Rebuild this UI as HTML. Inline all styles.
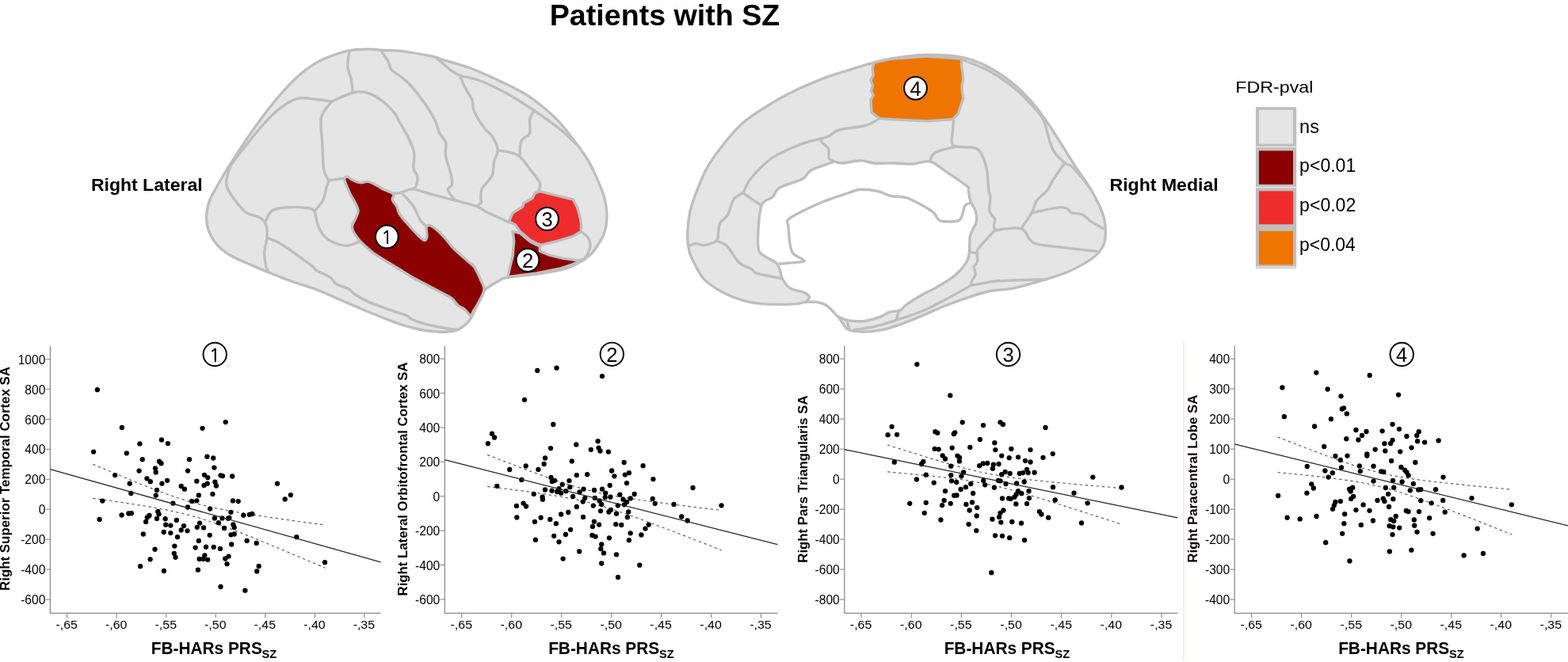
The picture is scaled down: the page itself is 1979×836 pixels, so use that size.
<!DOCTYPE html>
<html><head><meta charset="utf-8"><title>Patients with SZ</title>
<style>html,body{margin:0;padding:0;background:#fff;}body{width:1979px;height:836px;overflow:hidden;}svg{display:block;}text{font-family:"Liberation Sans",Arial,sans-serif;}</style>
</head><body>
<svg width="1979" height="836" viewBox="0 0 1979 836">
<rect width="1979" height="836" fill="#fff"/>
<text x="693.76" y="32.00" font-size="36.83" font-weight="bold" textLength="290.51" lengthAdjust="spacingAndGlyphs" fill="#000" >Patients with SZ</text>
<text x="114.90" y="240.80" font-size="22.48" font-weight="bold" textLength="140.75" lengthAdjust="spacingAndGlyphs" fill="#000" >Right Lateral</text>
<text x="1400.50" y="240.80" font-size="22.62" font-weight="bold" textLength="137.22" lengthAdjust="spacingAndGlyphs" fill="#000" >Right Medial</text>
<g stroke="#bebebe" stroke-width="3.4" stroke-linejoin="round" stroke-linecap="round">
<path d="M273.0,237.0 C277.4,229.1 282.3,220.3 290.4,207.7 C298.5,195.1 311.4,175.2 321.4,161.2 C331.4,147.2 340.6,134.8 350.2,123.6 C359.8,112.3 369.8,101.6 379.0,93.7 C388.2,85.8 395.6,80.9 405.5,76.0 C415.4,71.1 428.7,66.6 438.7,64.3 C448.7,62.0 457.9,62.2 465.3,62.1 C472.7,62.0 476.1,63.0 483.0,63.4 C489.9,63.8 496.7,63.2 507.0,64.5 C517.3,65.8 536.6,69.3 544.8,71.0 C552.9,72.7 547.8,72.0 555.9,74.5 C564.0,77.0 581.3,81.5 593.5,86.0 C605.7,90.5 617.9,96.3 629.0,101.5 C640.1,106.7 651.2,111.8 660.0,117.0 C668.8,122.2 674.6,126.6 682.0,132.5 C689.4,138.4 697.2,145.0 704.2,152.4 C711.2,159.8 717.4,167.8 724.0,176.7 C730.6,185.5 738.1,194.9 744.0,205.5 C749.9,216.1 756.2,231.8 759.5,240.0 C762.8,248.2 763.0,250.3 764.0,255.0 C765.0,259.7 765.6,263.0 765.8,268.0 C766.0,273.0 765.6,280.3 765.0,285.0 C764.4,289.7 763.2,292.8 762.0,296.0 C760.8,299.2 760.3,300.1 757.9,304.0 C755.5,307.9 750.5,315.8 747.4,319.5 C744.3,323.2 741.5,324.4 739.5,326.0 C737.5,327.6 739.1,326.8 735.1,329.0 C731.1,331.2 724.1,336.2 715.2,339.0 C706.4,341.8 694.5,343.7 682.0,345.6 C669.5,347.5 648.8,348.9 640.0,350.5 C631.2,352.1 633.3,352.8 629.0,355.0 C624.7,357.2 617.3,361.9 614.3,364.0 C611.3,366.1 612.7,364.4 611.0,367.5 C609.3,370.6 606.7,376.8 604.0,382.3 C601.3,387.8 597.5,396.1 595.0,400.5 C592.5,404.9 592.1,405.8 589.3,408.4 C586.5,411.0 582.7,414.6 578.0,416.4 C573.3,418.2 567.6,419.0 561.0,419.2 C554.4,419.4 545.0,418.4 538.2,417.5 C531.4,416.6 526.3,415.3 520.0,413.7 C513.7,412.1 510.9,411.7 500.5,407.9 C490.1,404.1 469.4,395.6 457.4,390.7 C445.4,385.8 438.3,382.4 428.7,378.3 C419.1,374.2 410.5,369.8 400.0,365.8 C389.5,361.8 375.1,357.9 365.7,354.5 C356.3,351.1 351.6,349.0 343.5,345.7 C335.4,342.4 325.5,338.3 317.0,334.6 C308.5,330.9 299.6,327.6 292.6,323.5 C285.6,319.4 279.8,315.5 275.0,310.3 C270.2,305.1 266.3,298.4 263.9,292.5 C261.5,286.6 260.5,281.1 260.5,274.8 C260.5,268.6 261.8,261.3 263.9,255.0 C266.0,248.7 268.6,244.9 273.0,237.0 Z" fill="#e5e5e5"/>
<path d="M291.0,209.0 C296.1,202.5 311.9,181.3 321.4,170.0 C330.9,158.7 339.1,148.9 348.0,141.3 C356.9,133.8 365.7,127.3 374.5,124.7 C383.3,122.1 393.6,125.2 401.0,125.8 C408.4,126.3 415.8,127.6 418.8,128.0" fill="none"/>
<path d="M291.0,209.0 C290.3,211.2 287.8,217.7 287.0,222.0 C286.2,226.3 284.7,230.2 286.0,235.0 C287.3,239.8 290.8,245.0 294.8,250.5 C298.9,256.0 304.8,264.1 310.3,268.2 C315.8,272.2 323.8,272.2 328.0,274.8 C332.2,277.4 334.3,279.4 335.8,283.7 C337.3,287.9 337.3,294.4 336.9,300.3 C336.5,306.2 333.8,312.9 333.6,319.0 C333.4,325.1 335.1,333.1 335.8,336.8 C336.5,340.5 337.6,340.3 338.0,341.0" fill="none"/>
<path d="M418.8,128.0 C423.2,126.2 437.9,118.8 445.3,117.0 C452.7,115.2 456.7,115.2 463.0,117.0 C469.3,118.8 477.1,123.6 483.0,128.0 C488.9,132.4 495.2,139.5 498.5,143.5 C501.8,147.5 500.5,147.5 503.0,152.0 C505.5,156.5 510.2,163.9 513.5,170.5 C516.8,177.1 521.1,184.5 522.5,191.5 C523.9,198.5 521.3,207.4 522.0,212.5 C522.7,217.6 525.9,218.3 526.5,222.0 C527.1,225.7 526.5,231.7 525.5,234.5 C524.5,237.3 521.3,238.2 520.5,239.0" fill="none"/>
<path d="M445.3,117.0 C444.9,114.0 444.1,104.8 443.0,99.3 C441.9,93.8 439.0,89.5 438.7,83.8 C438.4,78.1 440.6,68.1 441.0,65.0" fill="none"/>
<path d="M418.8,128.0 C416.6,131.3 407.5,139.5 405.5,148.0 C403.5,156.5 406.1,167.9 406.6,179.0 C407.2,190.1 407.5,206.3 408.8,214.4 C410.1,222.5 413.9,224.0 414.4,227.6 C414.9,231.2 413.1,231.8 412.0,236.0 C410.9,240.2 410.2,247.5 407.7,252.7 C405.1,257.9 398.5,264.6 396.7,267.0" fill="none"/>
<path d="M414.4,227.6 C416.2,227.4 421.8,226.9 425.4,226.5 C429.0,226.1 434.2,225.2 436.0,225.0" fill="none"/>
<path d="M335.5,279.0 C336.8,276.8 339.2,268.8 343.5,266.0 C347.8,263.2 353.8,262.6 361.2,262.0 C368.6,261.4 381.9,261.9 387.8,262.7 C393.7,263.5 394.5,263.5 396.7,267.0 C398.9,270.5 398.8,278.3 401.0,283.7 C403.2,289.1 406.3,295.3 410.0,299.2 C413.7,303.1 418.4,305.1 423.2,307.0 C428.0,308.9 433.5,310.7 438.7,310.3 C443.9,309.9 451.9,305.5 454.5,304.5" fill="none"/>
<path d="M336.9,300.3 C339.8,301.6 345.4,302.3 354.6,308.0 C363.8,313.7 384.6,329.0 392.2,334.6 C399.8,340.2 395.8,339.2 400.0,341.9 C404.2,344.5 413.2,347.8 417.2,350.5 C421.2,353.2 420.1,355.8 423.9,358.2 C427.7,360.6 436.2,362.7 440.2,364.9 C444.2,367.1 443.6,368.9 447.8,371.6 C452.0,374.3 457.1,377.6 465.1,381.1 C473.1,384.6 487.7,389.7 495.7,392.6 C503.7,395.5 508.7,396.5 512.9,398.4 C517.1,400.3 516.9,402.0 521.1,403.9 C525.3,405.8 530.6,407.6 538.2,409.5 C545.8,411.4 560.0,414.1 566.6,415.2 C573.2,416.3 576.1,416.2 578.0,416.4" fill="none"/>
<path d="M497.0,244.0 C498.5,243.9 502.3,244.2 506.2,243.3 C510.1,242.5 514.2,238.6 520.5,238.9 C526.8,239.2 534.9,242.7 543.9,245.1 C552.9,247.5 564.8,250.6 574.4,253.2 C584.0,255.8 594.4,257.8 601.3,260.4 C608.2,262.9 609.3,265.4 615.6,268.5 C621.9,271.6 634.4,277.1 639.0,279.2 C643.6,281.3 642.3,280.7 643.0,281.0" fill="none"/>
<path d="M506.2,243.3 C507.5,244.6 511.3,248.0 514.0,251.0 C516.7,254.0 520.1,258.0 522.3,261.3 C524.5,264.6 525.5,268.0 527.0,271.0 C528.5,274.0 529.7,276.9 531.3,279.2 C532.9,281.5 535.4,283.1 536.7,284.6 C538.0,286.1 538.6,287.4 539.0,288.0" fill="none"/>
<path d="M480.8,63.9 C482.3,66.1 487.4,73.0 489.6,77.0 C491.8,81.0 491.4,85.0 494.0,88.2 C496.6,91.4 500.9,92.7 505.0,96.0 C509.1,99.3 513.1,102.3 518.3,108.0 C523.5,113.7 530.8,122.8 536.0,130.2 C541.2,137.6 546.2,146.1 549.3,152.4 C552.4,158.7 552.4,163.4 554.6,168.0 C556.8,172.6 561.3,175.2 562.6,180.0 C563.9,184.8 561.5,190.0 562.6,196.7 C563.7,203.4 567.7,213.9 569.0,220.0 C570.3,226.1 571.1,229.7 570.5,233.0 C569.9,236.3 564.8,236.3 565.4,239.7 C566.0,243.1 572.9,250.9 574.4,253.2" fill="none"/>
<path d="M551.5,73.8 C554.8,76.6 566.2,86.7 571.4,90.4 C576.6,94.1 577.0,94.2 582.5,96.0 C588.0,97.8 595.4,98.0 604.6,101.5 C613.8,105.0 626.4,110.8 637.8,117.0 C649.2,123.2 662.1,131.6 673.2,139.0 C684.3,146.4 695.4,154.2 704.2,161.2 C713.1,168.2 722.6,177.7 726.3,181.0" fill="none"/>
<path d="M581.3,98.2 C582.4,100.6 585.6,107.9 588.0,112.5 C590.4,117.1 594.0,121.4 595.7,125.8 C597.4,130.2 596.6,134.8 598.0,139.0 C599.4,143.2 601.7,147.1 604.0,151.0 C606.3,154.9 609.0,158.9 612.0,162.6 C615.0,166.3 619.3,168.8 622.0,173.3 C624.7,177.8 627.9,184.4 628.2,189.5 C628.5,194.6 624.9,198.4 623.7,203.8 C622.5,209.2 623.5,216.1 621.0,221.8 C618.5,227.5 610.9,233.2 608.5,238.0 C606.1,242.8 606.9,247.5 606.7,250.5 C606.6,253.5 608.5,254.2 607.6,255.9 C606.7,257.6 602.3,259.6 601.3,260.4" fill="none"/>
<path d="M628.2,190.0 C630.6,190.4 638.0,190.9 642.6,192.2 C647.2,193.5 651.5,193.9 656.0,197.6 C660.5,201.3 665.3,209.1 669.5,214.6 C673.7,220.1 679.4,226.6 681.2,230.8 C683.0,235.0 681.0,237.7 680.3,239.7 C679.6,241.7 677.5,242.4 677.0,243.0" fill="none"/>
<path d="M656.0,197.6 C656.3,194.4 655.8,183.3 657.8,178.7 C659.8,174.0 665.8,172.2 667.7,169.7 C669.6,167.1 668.8,166.7 669.0,163.4 C669.2,160.2 668.0,154.1 668.8,150.2 C669.6,146.3 673.1,141.7 674.0,140.0" fill="none"/>
<path d="M733.4,292.2 C734.8,293.5 740.0,297.1 742.0,300.0 C744.0,302.9 745.1,305.9 745.1,309.3 C745.1,312.7 743.3,317.2 742.0,320.2 C740.7,323.2 738.1,326.0 737.3,327.2" fill="none"/>
<path d="M438.4,223.4 C440.0,223.4 441.8,225.8 444.4,227.0 C447.0,228.2 450.5,230.2 453.9,230.6 C457.3,231.0 461.1,228.8 464.7,229.4 C468.3,230.0 472.3,232.5 475.5,234.1 C478.7,235.7 480.3,237.1 483.8,238.9 C487.3,240.7 494.5,242.7 496.4,244.9 C498.3,247.1 494.5,249.5 495.2,252.1 C495.9,254.7 499.1,257.5 500.6,260.5 C502.1,263.5 502.0,266.4 504.2,270.0 C506.4,273.6 510.1,277.8 513.7,282.0 C517.3,286.2 522.1,291.5 525.7,295.1 C529.3,298.7 533.1,302.9 535.3,303.5 C537.5,304.1 538.4,301.5 538.9,298.7 C539.4,295.9 537.3,289.0 538.3,286.8 C539.3,284.6 541.2,283.6 544.8,285.6 C548.4,287.6 555.6,294.2 560.0,298.7 C564.4,303.2 566.3,307.3 571.4,312.5 C576.5,317.7 586.0,325.9 590.5,330.0 C595.0,334.1 595.8,333.0 598.4,336.8 C601.0,340.6 604.3,347.8 606.4,352.7 C608.5,357.6 611.4,361.1 611.0,366.0 C610.6,370.9 606.2,377.7 604.0,382.0 C601.8,386.3 599.7,389.3 598.0,392.0 C596.3,394.7 595.9,398.5 593.9,398.2 C591.9,397.9 588.6,392.3 586.0,390.2 C583.4,388.1 580.7,388.0 578.0,385.7 C575.3,383.4 573.8,379.5 570.0,376.6 C566.2,373.8 560.5,371.5 555.2,368.6 C549.9,365.8 543.9,362.5 538.2,359.5 C532.5,356.5 526.8,353.8 521.1,350.5 C515.4,347.2 509.2,343.2 504.0,340.0 C498.8,336.8 495.4,334.8 490.0,331.5 C484.6,328.2 475.9,322.9 471.9,320.2 C467.9,317.4 469.1,318.0 465.9,315.0 C462.7,312.0 456.3,307.0 452.7,302.3 C449.1,297.6 444.5,292.9 444.4,286.8 C444.3,280.8 452.4,273.0 452.0,266.0 C451.6,259.0 444.9,251.4 442.0,244.9 C439.1,238.4 435.4,230.6 434.8,227.0 C434.2,223.4 436.8,223.4 438.4,223.4 Z" fill="#8b0000"/>
<polygon points="647.1,292.2 656.4,294.5 668.9,305.0 676.7,309.0 681.3,311.0 681.3,317.1 692.2,321.8 710.9,326.4 729.5,328.8 738.0,327.0 722.0,334.0 707.8,338.9 676.7,345.1 640.9,349.8 644.0,336.0 647.1,323.3 648.7,304.7" fill="#8b0000"/>
<polygon points="642.4,279.8 647.1,268.9 651.0,266.5 659.5,261.1 661.1,256.4 672.0,250.2 675.1,244.0 681.3,241.7 723.3,251.8 728.5,261.6 731.1,270.4 733.4,281.3 733.4,292.2 723.3,298.4 707.8,303.1 682.9,309.3 676.7,307.0 668.9,303.1 656.4,292.2 650.4,284.0" fill="#ee2c2c"/>
</g>
<g stroke="#bebebe" stroke-width="3.4" stroke-linejoin="round" stroke-linecap="round">
<path d="M880.0,240.0 C883.7,230.7 887.3,220.6 893.2,210.5 C899.1,200.4 907.9,188.7 915.3,179.5 C922.7,170.3 929.0,162.6 937.5,155.2 C946.0,147.8 956.2,141.5 966.2,135.2 C976.2,128.9 985.4,123.4 997.2,117.5 C1009.0,111.6 1024.8,104.6 1037.0,99.8 C1049.2,95.0 1059.1,92.3 1070.2,88.8 C1081.3,85.3 1093.4,81.4 1103.4,78.8 C1113.4,76.2 1119.0,74.9 1130.0,73.3 C1141.0,71.7 1155.3,69.5 1169.2,69.3 C1183.1,69.1 1200.6,69.7 1213.5,72.2 C1226.4,74.7 1235.6,78.6 1246.7,84.3 C1257.8,90.0 1270.7,99.1 1279.9,106.5 C1289.1,113.9 1295.7,121.6 1302.0,128.6 C1308.3,135.6 1312.0,140.8 1317.5,148.5 C1323.0,156.2 1328.6,164.7 1335.2,175.0 C1341.8,185.3 1350.3,199.6 1357.3,210.4 C1364.3,221.2 1371.7,230.7 1377.2,240.0 C1382.7,249.3 1387.5,259.1 1390.5,266.5 C1393.5,273.9 1394.4,277.6 1394.9,284.2 C1395.5,290.8 1395.7,300.1 1393.8,306.4 C1391.9,312.7 1388.0,317.5 1383.8,321.9 C1379.6,326.3 1374.7,329.2 1368.4,332.9 C1362.1,336.6 1354.3,340.7 1346.2,344.0 C1338.1,347.3 1330.8,349.5 1319.7,352.8 C1308.7,356.1 1291.5,361.4 1279.9,363.9 C1268.3,366.3 1259.3,365.7 1250.0,367.5 C1240.7,369.3 1233.6,371.8 1224.3,374.8 C1215.0,377.8 1206.9,380.5 1194.4,385.5 C1181.9,390.5 1162.0,399.8 1149.5,404.7 C1137.0,409.6 1128.8,412.7 1119.6,415.1 C1110.4,417.5 1101.2,418.4 1094.2,418.9 C1087.2,419.4 1081.9,418.7 1077.7,418.1 C1073.5,417.5 1072.3,418.3 1068.8,415.1 C1065.3,411.9 1061.0,403.6 1056.8,398.7 C1052.6,393.8 1047.7,388.9 1043.7,386.0 C1039.7,383.1 1037.4,382.3 1032.6,381.6 C1027.8,380.9 1019.8,381.2 1015.0,381.6 C1010.2,382.0 1012.4,383.5 1003.9,383.9 C995.4,384.3 975.1,384.6 964.0,383.9 C952.9,383.1 946.4,382.0 937.5,379.4 C928.6,376.8 919.0,372.8 910.9,368.4 C902.8,364.0 894.3,358.4 888.8,352.9 C883.3,347.4 880.8,341.1 877.7,335.2 C874.6,329.3 871.7,324.1 870.0,317.5 C868.3,310.9 867.5,303.8 867.7,295.3 C867.9,286.8 869.0,275.8 871.0,266.6 C873.0,257.4 876.3,249.3 880.0,240.0 Z" fill="#e5e5e5"/>
<path d="M1050.3,205.0 C1045.5,206.8 1030.1,211.4 1023.8,214.9 C1017.5,218.4 1019.4,222.3 1012.7,226.0 C1006.1,229.7 990.2,233.2 983.9,237.0 C977.6,240.8 978.7,245.5 975.0,248.9 C971.3,252.3 964.7,251.8 961.8,257.7 C958.9,263.6 958.1,274.7 957.4,284.3 C956.7,293.9 955.9,308.6 957.4,315.2 C958.9,321.8 962.5,321.3 966.2,324.1 C969.9,326.9 976.5,329.2 979.5,331.8 C982.5,334.4 982.7,336.3 984.0,339.6 C985.3,342.9 985.1,347.8 987.3,351.8 C989.5,355.9 992.6,360.9 997.2,363.9 C1001.8,366.8 1010.9,367.6 1015.0,369.5 C1019.1,371.4 1020.9,373.2 1021.6,375.0 C1022.3,376.8 1017.2,379.4 1019.0,380.5 C1020.8,381.6 1028.5,380.7 1032.6,381.6 C1036.7,382.5 1040.0,383.4 1043.7,386.0 C1047.4,388.6 1052.6,394.9 1054.8,397.1 C1057.0,399.3 1054.4,398.0 1057.0,399.3 C1059.6,400.6 1064.6,403.7 1070.3,404.7 C1076.0,405.7 1084.5,406.1 1091.2,405.4 C1097.9,404.6 1105.4,402.1 1110.6,400.2 C1115.8,398.3 1118.3,395.6 1122.6,394.2 C1126.8,392.8 1132.6,393.5 1136.1,392.0 C1139.6,390.5 1138.8,388.6 1143.5,385.2 C1148.2,381.8 1158.4,375.4 1164.5,371.8 C1170.6,368.2 1173.6,367.8 1180.3,363.9 C1187.0,360.0 1198.0,353.9 1204.6,348.4 C1211.2,342.9 1216.9,335.9 1220.1,330.7 C1223.2,325.5 1222.8,322.9 1223.5,317.4 C1224.2,311.9 1223.1,303.8 1224.6,297.5 C1226.1,291.2 1231.2,285.0 1232.3,279.8 C1233.4,274.6 1232.5,270.9 1231.2,266.5 C1229.9,262.1 1226.1,257.7 1224.6,253.3 C1223.1,248.9 1223.0,243.1 1222.3,240.0 C1221.5,236.9 1225.2,239.0 1220.1,234.8 C1214.9,230.6 1199.1,220.1 1191.4,214.9 C1183.7,209.7 1180.4,205.1 1173.7,203.8 C1167.0,202.5 1158.8,206.7 1151.5,207.1 C1144.2,207.5 1138.0,206.2 1130.0,206.0 C1122.0,205.8 1110.8,206.6 1103.4,206.0 C1096.0,205.4 1092.3,202.7 1085.7,202.7 C1079.1,202.7 1069.1,205.8 1063.6,206.0 C1058.1,206.2 1054.7,204.1 1052.5,203.9 C1050.3,203.7 1055.1,203.2 1050.3,205.0 Z" fill="#fff"/>
<path d="M984.0,333.0 C988.8,332.6 1007.9,331.6 1012.7,330.7 C1017.5,329.8 1014.9,329.6 1012.7,327.4 C1010.5,325.2 1002.4,324.3 999.4,317.5 C996.4,310.7 995.4,293.5 995.0,286.5 C994.6,279.5 990.2,280.6 997.2,275.4 C1004.2,270.2 1024.9,260.7 1037.0,255.5 C1049.1,250.3 1061.9,246.7 1070.0,244.0 C1078.1,241.3 1079.4,239.7 1085.7,239.3 C1092.0,238.9 1101.4,240.1 1107.9,241.5 C1114.5,242.9 1118.8,246.3 1125.0,247.7 C1131.2,249.1 1136.4,246.9 1144.9,250.0 C1153.4,253.1 1169.3,261.9 1175.9,266.5 C1182.5,271.1 1181.8,275.4 1184.7,277.6 C1187.7,279.8 1189.2,279.8 1193.6,279.8 C1198.0,279.8 1207.2,280.9 1211.3,277.6 C1215.3,274.3 1215.7,263.4 1217.9,259.9 C1220.1,256.4 1223.5,257.2 1224.6,256.6" fill="none"/>
<path d="M1110.0,149.6 C1107.1,151.1 1100.9,156.1 1092.4,158.5 C1083.9,160.9 1067.3,161.6 1059.2,164.0 C1051.1,166.4 1051.1,170.1 1043.7,172.9 C1036.3,175.7 1025.3,176.9 1015.0,180.6 C1004.7,184.3 989.8,190.8 981.7,195.0 C973.6,199.2 971.0,201.9 966.2,206.0 C961.4,210.1 956.7,215.2 953.0,219.3 C949.3,223.4 946.7,226.4 944.1,230.4 C941.5,234.4 940.5,239.9 937.5,243.3 C934.5,246.7 929.5,246.4 926.4,251.0 C923.2,255.6 921.5,265.8 918.6,271.0 C915.7,276.2 910.7,277.9 908.7,282.0 C906.7,286.1 907.2,291.6 906.5,295.3 C905.8,299.0 907.2,301.8 904.3,304.2 C901.3,306.6 893.2,309.1 888.8,309.7 C884.4,310.2 881.0,307.3 877.7,307.5 C874.4,307.7 870.5,310.2 869.0,310.8" fill="none"/>
<path d="M1037.0,177.0 C1037.0,177.4 1035.5,177.6 1037.0,179.5 C1038.5,181.4 1044.4,185.1 1045.9,188.4 C1047.4,191.7 1044.8,196.8 1045.9,199.4 C1047.0,202.0 1051.4,203.2 1052.5,203.9" fill="none"/>
<path d="M937.5,243.3 L959.6,258.8" fill="none"/>
<path d="M904.3,304.2 C906.5,305.3 912.7,306.2 917.5,310.8 C922.3,315.4 927.8,327.0 933.0,331.8 C938.2,336.6 944.8,337.4 948.5,339.6 C952.2,341.8 948.7,343.1 955.2,345.1 C961.7,347.1 981.9,350.7 987.3,351.8" fill="none"/>
<path d="M1203.5,152.9 C1203.3,155.1 1202.8,161.8 1202.4,166.2 C1202.0,170.6 1200.5,176.4 1201.3,179.5 C1202.0,182.6 1201.9,183.7 1206.9,185.0 C1211.9,186.3 1225.7,185.2 1231.2,187.2 C1236.7,189.2 1237.6,192.6 1240.0,197.2 C1242.4,201.8 1244.3,207.8 1245.6,214.9 C1246.9,222.0 1247.1,234.3 1247.8,240.0 C1248.5,245.7 1249.8,244.5 1250.0,248.9 C1250.2,253.3 1248.0,261.9 1248.9,266.5 C1249.8,271.1 1254.6,273.6 1255.5,276.5 C1256.4,279.4 1254.4,281.8 1254.4,284.2 C1254.4,286.6 1255.3,289.8 1255.5,290.9" fill="none"/>
<path d="M1206.9,185.0 C1202.5,186.3 1185.8,189.6 1180.3,192.7 C1174.8,195.8 1174.8,202.0 1173.7,203.8" fill="none"/>
<path d="M1255.5,290.9 C1261.0,290.5 1280.6,286.1 1288.7,288.7 C1296.8,291.3 1296.5,302.5 1304.2,306.4 C1312.0,310.3 1321.9,310.1 1335.2,311.9 C1348.5,313.7 1375.7,316.5 1383.8,317.4" fill="none"/>
<path d="M1255.5,290.9 C1252.2,294.6 1239.3,308.2 1235.6,313.0 C1231.9,317.8 1233.8,316.7 1233.4,319.6 C1233.0,322.6 1234.1,327.8 1233.4,330.7 C1232.7,333.6 1229.4,334.7 1229.0,337.3 C1228.6,339.9 1231.6,342.5 1231.2,346.2 C1230.8,349.9 1222.4,358.0 1226.8,359.5 C1231.2,361.0 1242.2,356.1 1257.7,355.0 C1273.2,353.9 1309.4,353.2 1319.7,352.8" fill="none"/>
<path d="M1226.8,359.5 C1221.4,362.6 1204.8,372.3 1194.4,377.8 C1184.0,383.3 1174.5,388.5 1164.5,392.7 C1154.5,396.9 1144.6,400.0 1134.6,403.2 C1124.6,406.4 1114.2,409.9 1104.7,412.1 C1095.2,414.3 1082.2,415.9 1077.7,416.6" fill="none"/>
<path d="M1134.6,392.0 L1131.6,403.2" fill="none"/>
<path d="M1068.8,404.7 L1071.8,415.1" fill="none"/>
<path d="M1223.5,318.5 L1233.4,319.6" fill="none"/>
<path d="M1288.7,288.7 C1290.9,285.4 1298.7,274.7 1302.0,268.8 C1305.3,262.9 1305.3,258.1 1308.6,253.3 C1311.9,248.5 1318.6,244.2 1321.9,240.0 C1325.2,235.8 1325.9,232.3 1328.5,228.1 C1331.1,223.9 1334.8,218.6 1337.4,214.9 C1340.0,211.2 1342.9,207.5 1344.0,206.0" fill="none"/>
<path d="M1302.0,268.8 C1307.5,267.7 1327.8,263.0 1335.2,262.1 C1342.6,261.2 1343.2,262.1 1346.2,263.2 C1349.2,264.3 1349.6,267.5 1352.9,268.8 C1356.2,270.1 1362.2,269.2 1366.2,271.0 C1370.2,272.8 1372.8,276.9 1377.2,279.8 C1381.6,282.8 1390.1,287.2 1392.7,288.7" fill="none"/>
<path d="M1213.5,75.0 C1219.0,77.3 1235.6,82.8 1246.7,88.8 C1257.8,94.8 1270.0,102.8 1279.9,110.9 C1289.9,119.0 1300.1,130.4 1306.4,137.4 C1312.7,144.4 1313.8,144.4 1317.5,152.9 C1321.2,161.4 1324.1,179.5 1328.5,188.3 C1332.9,197.2 1339.9,202.3 1344.0,206.0 C1348.1,209.7 1348.8,206.7 1352.9,210.4 C1357.0,214.1 1364.4,223.2 1368.4,228.1 C1372.5,233.0 1375.7,238.0 1377.2,240.0" fill="none"/>
<polygon points="1103.4,78.8 1125.0,74.4 1169.2,71.0 1213.5,74.0 1213.5,82.1 1215.7,99.8 1214.0,108.0 1214.6,117.5 1215.7,124.2 1209.0,144.0 1202.4,150.7 1169.2,152.9 1125.0,150.7 1110.0,149.6 1100.0,141.9 1099.0,126.4 1102.3,120.0 1099.5,115.0 1101.5,108.0 1099.0,101.0 1102.3,95.0 1101.0,86.0" fill="#ee7600"/>
</g>
<circle cx="488.3" cy="298.9" r="14.4" fill="#fff" stroke="#000" stroke-width="2.0"/><text x="488.20" y="308.35" font-size="24" text-anchor="middle" stroke="#000" stroke-width="0.35" style="font-family:NanumGothic,'Liberation Sans',sans-serif" fill="#000">1</text>
<circle cx="666.0" cy="328.5" r="14.4" fill="#fff" stroke="#000" stroke-width="2.0"/><text x="666.0" y="338.35" font-size="25.5" text-anchor="middle" fill="#000">2</text>
<circle cx="690.5" cy="276.4" r="14.4" fill="#fff" stroke="#000" stroke-width="2.0"/><text x="690.5" y="286.25" font-size="25.5" text-anchor="middle" fill="#000">3</text>
<circle cx="1155.5" cy="111.3" r="14.4" fill="#fff" stroke="#000" stroke-width="2.0"/><text x="1155.5" y="121.15" font-size="25.5" text-anchor="middle" fill="#000">4</text>
<text x="1559.24" y="116.90" font-size="20.97" font-weight="normal" textLength="98.24" lengthAdjust="spacingAndGlyphs" fill="#000" >FDR-pval</text>
<rect x="1584.9" y="135.2" width="51.3" height="201.5" fill="#bebebe"/>
<rect x="1584.9" y="184.7" width="51.3" height="1.5" fill="#e6e6e6"/>
<rect x="1584.9" y="235.7" width="51.3" height="1.7" fill="#e6e6e6"/>
<rect x="1584.9" y="336.7" width="51.3" height="2.9" fill="#d9d9d9"/>
<rect x="1588.9" y="138.8" width="43.1" height="42.9" fill="#e5e5e5"/>
<text x="1640.07" y="168.40" font-size="23.50" font-weight="normal" textLength="24.82" lengthAdjust="spacingAndGlyphs" fill="#000" >ns</text>
<rect x="1588.9" y="190.4" width="43.1" height="42.5" fill="#8b0000"/>
<text x="1640.10" y="216.50" font-size="23.00" font-weight="normal" textLength="71.19" lengthAdjust="spacingAndGlyphs" fill="#000" >p&lt;0.01</text>
<rect x="1588.9" y="241.3" width="43.1" height="42.0" fill="#ee2c2c"/>
<text x="1640.10" y="266.80" font-size="23.00" font-weight="normal" textLength="71.19" lengthAdjust="spacingAndGlyphs" fill="#000" >p&lt;0.02</text>
<rect x="1588.9" y="291.8" width="43.1" height="42.6" fill="#ee7600"/>
<text x="1640.11" y="317.20" font-size="23.00" font-weight="normal" textLength="70.71" lengthAdjust="spacingAndGlyphs" fill="#000" >p&lt;0.04</text>
<g><path d="M63.4,436.7 L63.4,774.3 L480.5,774.3" fill="none" stroke="#8a8a8a" stroke-width="1.25"/><line x1="57.6" y1="453.5" x2="63.4" y2="453.5" stroke="#8a8a8a" stroke-width="1.1"/><text x="57.4" y="459.6" font-size="15.6" text-anchor="end" fill="#000">1000</text><line x1="57.6" y1="491.4" x2="63.4" y2="491.4" stroke="#8a8a8a" stroke-width="1.1"/><text x="57.4" y="497.5" font-size="15.6" text-anchor="end" fill="#000">800</text><line x1="57.6" y1="529.4" x2="63.4" y2="529.4" stroke="#8a8a8a" stroke-width="1.1"/><text x="57.4" y="535.5" font-size="15.6" text-anchor="end" fill="#000">600</text><line x1="57.6" y1="567.3" x2="63.4" y2="567.3" stroke="#8a8a8a" stroke-width="1.1"/><text x="57.4" y="573.4" font-size="15.6" text-anchor="end" fill="#000">400</text><line x1="57.6" y1="605.2" x2="63.4" y2="605.2" stroke="#8a8a8a" stroke-width="1.1"/><text x="57.4" y="611.4" font-size="15.6" text-anchor="end" fill="#000">200</text><line x1="57.6" y1="643.2" x2="63.4" y2="643.2" stroke="#8a8a8a" stroke-width="1.1"/><text x="57.4" y="649.3" font-size="15.6" text-anchor="end" fill="#000">0</text><line x1="57.6" y1="681.2" x2="63.4" y2="681.2" stroke="#8a8a8a" stroke-width="1.1"/><text x="57.4" y="687.3" font-size="15.6" text-anchor="end" fill="#000">-200</text><line x1="57.6" y1="719.1" x2="63.4" y2="719.1" stroke="#8a8a8a" stroke-width="1.1"/><text x="57.4" y="725.2" font-size="15.6" text-anchor="end" fill="#000">-400</text><line x1="57.6" y1="757.1" x2="63.4" y2="757.1" stroke="#8a8a8a" stroke-width="1.1"/><text x="57.4" y="763.2" font-size="15.6" text-anchor="end" fill="#000">-600</text><line x1="84.6" y1="774.3" x2="84.6" y2="780.1999999999999" stroke="#8a8a8a" stroke-width="1.1"/><text x="84.2" y="793.8" font-size="15.2" text-anchor="middle" fill="#000" transform="translate(84.6,0) scale(1.05,1) translate(-84.6,0)">-,65</text><line x1="147.1" y1="774.3" x2="147.1" y2="780.1999999999999" stroke="#8a8a8a" stroke-width="1.1"/><text x="146.7" y="793.8" font-size="15.2" text-anchor="middle" fill="#000" transform="translate(147.1,0) scale(1.05,1) translate(-147.1,0)">-,60</text><line x1="209.7" y1="774.3" x2="209.7" y2="780.1999999999999" stroke="#8a8a8a" stroke-width="1.1"/><text x="209.3" y="793.8" font-size="15.2" text-anchor="middle" fill="#000" transform="translate(209.7,0) scale(1.05,1) translate(-209.7,0)">-,55</text><line x1="272.2" y1="774.3" x2="272.2" y2="780.1999999999999" stroke="#8a8a8a" stroke-width="1.1"/><text x="271.8" y="793.8" font-size="15.2" text-anchor="middle" fill="#000" transform="translate(272.2,0) scale(1.05,1) translate(-272.2,0)">-,50</text><line x1="334.7" y1="774.3" x2="334.7" y2="780.1999999999999" stroke="#8a8a8a" stroke-width="1.1"/><text x="334.3" y="793.8" font-size="15.2" text-anchor="middle" fill="#000" transform="translate(334.7,0) scale(1.05,1) translate(-334.7,0)">-,45</text><line x1="397.2" y1="774.3" x2="397.2" y2="780.1999999999999" stroke="#8a8a8a" stroke-width="1.1"/><text x="396.9" y="793.8" font-size="15.2" text-anchor="middle" fill="#000" transform="translate(397.2,0) scale(1.05,1) translate(-397.2,0)">-,40</text><line x1="459.8" y1="774.3" x2="459.8" y2="780.1999999999999" stroke="#8a8a8a" stroke-width="1.1"/><text x="459.4" y="793.8" font-size="15.2" text-anchor="middle" fill="#000" transform="translate(459.8,0) scale(1.05,1) translate(-459.8,0)">-,35</text><path d="M117.2,586.3 L124.7,589.5 L132.2,592.6 L139.8,595.8 L147.3,598.9 L154.8,602.0 L162.3,605.1 L169.8,608.2 L177.4,611.2 L184.9,614.2 L192.4,617.1 L199.9,620.0 L207.4,622.8 L215.0,625.5 L222.5,628.1 L230.0,630.6 L237.5,632.9 L245.0,635.1 L252.6,637.1 L260.1,638.9 L267.6,640.7 L275.1,642.3 L282.7,643.8 L290.2,645.2 L297.7,646.5 L305.2,647.8 L312.7,649.0 L320.3,650.2 L327.8,651.4 L335.3,652.5 L342.8,653.6 L350.3,654.7 L357.9,655.8 L365.4,656.8 L372.9,657.9 L380.4,658.9 L387.9,659.9 L395.5,661.0 L403.0,662.0 L410.5,663.0" fill="none" stroke="#5e5e5e" stroke-width="1.2" stroke-dasharray="3.4 3.7"/><path d="M117.2,629.3 L124.7,630.4 L132.2,631.4 L139.8,632.5 L147.3,633.6 L154.8,634.7 L162.3,635.8 L169.8,637.0 L177.4,638.2 L184.9,639.4 L192.4,640.7 L199.9,642.1 L207.4,643.5 L215.0,645.0 L222.5,646.6 L230.0,648.4 L237.5,650.3 L245.0,652.3 L252.6,654.5 L260.1,656.9 L267.6,659.4 L275.1,662.0 L282.7,664.7 L290.2,667.6 L297.7,670.4 L305.2,673.4 L312.7,676.4 L320.3,679.4 L327.8,682.5 L335.3,685.6 L342.8,688.7 L350.3,691.8 L357.9,695.0 L365.4,698.1 L372.9,701.3 L380.4,704.5 L387.9,707.7 L395.5,710.9 L403.0,714.1 L410.5,717.3" fill="none" stroke="#5e5e5e" stroke-width="1.2" stroke-dasharray="3.4 3.7"/><circle cx="122.9" cy="492.2" r="3.15"/><circle cx="153.9" cy="540" r="3.15"/><circle cx="255.5" cy="540.8" r="3.15"/><circle cx="118.1" cy="570.6" r="3.15"/><circle cx="159.8" cy="572.3" r="3.15"/><circle cx="176.4" cy="560.4" r="3.15"/><circle cx="203.9" cy="555.4" r="3.15"/><circle cx="211.9" cy="560.1" r="3.15"/><circle cx="179.7" cy="580.2" r="3.15"/><circle cx="201" cy="582.7" r="3.15"/><circle cx="203.5" cy="585.2" r="3.15"/><circle cx="239" cy="580.2" r="3.15"/><circle cx="261.4" cy="576.7" r="3.15"/><circle cx="175.6" cy="594.6" r="3.15"/><circle cx="196" cy="591.4" r="3.15"/><circle cx="196.7" cy="596.4" r="3.15"/><circle cx="237" cy="594.6" r="3.15"/><circle cx="258" cy="599.8" r="3.15"/><circle cx="145.2" cy="600.1" r="3.15"/><circle cx="185.4" cy="604.3" r="3.15"/><circle cx="189.8" cy="608.2" r="3.15"/><circle cx="211.1" cy="606.8" r="3.15"/><circle cx="163.7" cy="610.7" r="3.15"/><circle cx="204.4" cy="610.7" r="3.15"/><circle cx="248.3" cy="607.7" r="3.15"/><circle cx="257.5" cy="612.9" r="3.15"/><circle cx="228.7" cy="614" r="3.15"/><circle cx="232.9" cy="617.7" r="3.15"/><circle cx="198" cy="619" r="3.15"/><circle cx="284.7" cy="533.1" r="3.15"/><circle cx="269.2" cy="578.5" r="3.15"/><circle cx="270.4" cy="590.6" r="3.15"/><circle cx="262.2" cy="603.1" r="3.15"/><circle cx="278.5" cy="600.3" r="3.15"/><circle cx="281" cy="601.1" r="3.15"/><circle cx="293.2" cy="601.5" r="3.15"/><circle cx="261.7" cy="610.7" r="3.15"/><circle cx="271.4" cy="608.7" r="3.15"/><circle cx="272.9" cy="613.5" r="3.15"/><circle cx="350" cy="610.7" r="3.15"/><circle cx="165.3" cy="623" r="3.15"/><circle cx="196.7" cy="625.6" r="3.15"/><circle cx="250.8" cy="625.4" r="3.15"/><circle cx="129.3" cy="632.6" r="3.15"/><circle cx="242.1" cy="632.9" r="3.15"/><circle cx="248.3" cy="632.3" r="3.15"/><circle cx="218.4" cy="635.6" r="3.15"/><circle cx="237" cy="640.5" r="3.15"/><circle cx="153.6" cy="650.5" r="3.15"/><circle cx="162.3" cy="648.5" r="3.15"/><circle cx="165.8" cy="648.2" r="3.15"/><circle cx="125.6" cy="655.9" r="3.15"/><circle cx="188.5" cy="651" r="3.15"/><circle cx="185.8" cy="653.5" r="3.15"/><circle cx="184.1" cy="658.9" r="3.15"/><circle cx="199.3" cy="646" r="3.15"/><circle cx="200.5" cy="649.3" r="3.15"/><circle cx="198" cy="654.9" r="3.15"/><circle cx="208.6" cy="655.2" r="3.15"/><circle cx="222.8" cy="656.9" r="3.15"/><circle cx="209.2" cy="662.7" r="3.15"/><circle cx="215.3" cy="663.6" r="3.15"/><circle cx="232" cy="664.1" r="3.15"/><circle cx="228.7" cy="669.4" r="3.15"/><circle cx="236.5" cy="670.3" r="3.15"/><circle cx="252.1" cy="660.6" r="3.15"/><circle cx="248.8" cy="665.8" r="3.15"/><circle cx="257" cy="666.4" r="3.15"/><circle cx="206.7" cy="672" r="3.15"/><circle cx="215.3" cy="673.1" r="3.15"/><circle cx="224" cy="678.2" r="3.15"/><circle cx="180.8" cy="674.5" r="3.15"/><circle cx="250.8" cy="682.9" r="3.15"/><circle cx="220.3" cy="689.6" r="3.15"/><circle cx="246.6" cy="691.6" r="3.15"/><circle cx="260" cy="690.7" r="3.15"/><circle cx="195.5" cy="693.7" r="3.15"/><circle cx="219.8" cy="698.8" r="3.15"/><circle cx="221.5" cy="703.8" r="3.15"/><circle cx="258.3" cy="701.3" r="3.15"/><circle cx="251.6" cy="706" r="3.15"/><circle cx="256.6" cy="706" r="3.15"/><circle cx="189.6" cy="706.3" r="3.15"/><circle cx="177.1" cy="715.2" r="3.15"/><circle cx="206.9" cy="721" r="3.15"/><circle cx="249.9" cy="719.7" r="3.15"/><circle cx="268.4" cy="623.9" r="3.15"/><circle cx="293.9" cy="632.4" r="3.15"/><circle cx="300.7" cy="633.1" r="3.15"/><circle cx="359.7" cy="630.4" r="3.15"/><circle cx="366.9" cy="625.1" r="3.15"/><circle cx="265.1" cy="642.6" r="3.15"/><circle cx="291.4" cy="646.8" r="3.15"/><circle cx="307.3" cy="650.7" r="3.15"/><circle cx="314.8" cy="649.8" r="3.15"/><circle cx="318.3" cy="649" r="3.15"/><circle cx="270.9" cy="654.4" r="3.15"/><circle cx="280.5" cy="654.4" r="3.15"/><circle cx="288" cy="654.7" r="3.15"/><circle cx="289.3" cy="654" r="3.15"/><circle cx="275.9" cy="660.2" r="3.15"/><circle cx="283" cy="666.9" r="3.15"/><circle cx="294.4" cy="662.4" r="3.15"/><circle cx="295.7" cy="666.1" r="3.15"/><circle cx="264.7" cy="675.8" r="3.15"/><circle cx="291.5" cy="675.3" r="3.15"/><circle cx="295.7" cy="674.5" r="3.15"/><circle cx="311.6" cy="682.9" r="3.15"/><circle cx="323.7" cy="685.9" r="3.15"/><circle cx="374.3" cy="678.2" r="3.15"/><circle cx="292.2" cy="687.5" r="3.15"/><circle cx="269.7" cy="690.9" r="3.15"/><circle cx="278" cy="692.9" r="3.15"/><circle cx="262.2" cy="706.8" r="3.15"/><circle cx="284.3" cy="705.5" r="3.15"/><circle cx="288.5" cy="702.6" r="3.15"/><circle cx="286.5" cy="712.2" r="3.15"/><circle cx="326.7" cy="715" r="3.15"/><circle cx="324.2" cy="721.4" r="3.15"/><circle cx="410" cy="710.2" r="3.15"/><circle cx="278.5" cy="741" r="3.15"/><circle cx="309.4" cy="745.7" r="3.15"/><line x1="63.4" y1="592.7" x2="480.5" y2="709.8" stroke="#262626" stroke-width="1.25"/><circle cx="271.2" cy="447.5" r="14.7" fill="#fff" stroke="#000" stroke-width="1.9"/><text x="271.10" y="456.95" font-size="24" text-anchor="middle" stroke="#000" stroke-width="0.35" style="font-family:NanumGothic,'Liberation Sans',sans-serif" fill="#000">1</text><text transform="translate(12.25,746.00) rotate(-90)" x="0" y="0" font-size="16.55" font-weight="bold" textLength="283.04" lengthAdjust="spacingAndGlyphs" fill="#000">Right Superior Temporal Cortex SA</text><text x="190.75" y="825.8" font-size="21.86" font-weight="bold" fill="#000"><tspan textLength="140.04" lengthAdjust="spacingAndGlyphs">FB-HARs PRS</tspan><tspan font-size="14.6" dx="-0.2" dy="4.7">SZ</tspan></text></g>
<g><path d="M561.3,436.7 L561.3,774.3 L981.4,774.3" fill="none" stroke="#8a8a8a" stroke-width="1.25"/><line x1="555.5" y1="453.1" x2="561.3" y2="453.1" stroke="#8a8a8a" stroke-width="1.1"/><text x="555.3" y="459.2" font-size="15.6" text-anchor="end" fill="#000">800</text><line x1="555.5" y1="496.5" x2="561.3" y2="496.5" stroke="#8a8a8a" stroke-width="1.1"/><text x="555.3" y="502.6" font-size="15.6" text-anchor="end" fill="#000">600</text><line x1="555.5" y1="539.9" x2="561.3" y2="539.9" stroke="#8a8a8a" stroke-width="1.1"/><text x="555.3" y="546.0" font-size="15.6" text-anchor="end" fill="#000">400</text><line x1="555.5" y1="583.3" x2="561.3" y2="583.3" stroke="#8a8a8a" stroke-width="1.1"/><text x="555.3" y="589.4" font-size="15.6" text-anchor="end" fill="#000">200</text><line x1="555.5" y1="626.7" x2="561.3" y2="626.7" stroke="#8a8a8a" stroke-width="1.1"/><text x="555.3" y="632.8" font-size="15.6" text-anchor="end" fill="#000">0</text><line x1="555.5" y1="670.1" x2="561.3" y2="670.1" stroke="#8a8a8a" stroke-width="1.1"/><text x="555.3" y="676.2" font-size="15.6" text-anchor="end" fill="#000">-200</text><line x1="555.5" y1="713.5" x2="561.3" y2="713.5" stroke="#8a8a8a" stroke-width="1.1"/><text x="555.3" y="719.6" font-size="15.6" text-anchor="end" fill="#000">-400</text><line x1="555.5" y1="756.9" x2="561.3" y2="756.9" stroke="#8a8a8a" stroke-width="1.1"/><text x="555.3" y="763.0" font-size="15.6" text-anchor="end" fill="#000">-600</text><line x1="582.7" y1="774.3" x2="582.7" y2="780.1999999999999" stroke="#8a8a8a" stroke-width="1.1"/><text x="582.3" y="793.8" font-size="15.2" text-anchor="middle" fill="#000" transform="translate(582.7,0) scale(1.05,1) translate(-582.7,0)">-,65</text><line x1="645.7" y1="774.3" x2="645.7" y2="780.1999999999999" stroke="#8a8a8a" stroke-width="1.1"/><text x="645.3" y="793.8" font-size="15.2" text-anchor="middle" fill="#000" transform="translate(645.7,0) scale(1.05,1) translate(-645.7,0)">-,60</text><line x1="708.6" y1="774.3" x2="708.6" y2="780.1999999999999" stroke="#8a8a8a" stroke-width="1.1"/><text x="708.2" y="793.8" font-size="15.2" text-anchor="middle" fill="#000" transform="translate(708.6,0) scale(1.05,1) translate(-708.6,0)">-,55</text><line x1="771.6" y1="774.3" x2="771.6" y2="780.1999999999999" stroke="#8a8a8a" stroke-width="1.1"/><text x="771.2" y="793.8" font-size="15.2" text-anchor="middle" fill="#000" transform="translate(771.6,0) scale(1.05,1) translate(-771.6,0)">-,50</text><line x1="834.5" y1="774.3" x2="834.5" y2="780.1999999999999" stroke="#8a8a8a" stroke-width="1.1"/><text x="834.1" y="793.8" font-size="15.2" text-anchor="middle" fill="#000" transform="translate(834.5,0) scale(1.05,1) translate(-834.5,0)">-,45</text><line x1="897.5" y1="774.3" x2="897.5" y2="780.1999999999999" stroke="#8a8a8a" stroke-width="1.1"/><text x="897.1" y="793.8" font-size="15.2" text-anchor="middle" fill="#000" transform="translate(897.5,0) scale(1.05,1) translate(-897.5,0)">-,40</text><line x1="960.4" y1="774.3" x2="960.4" y2="780.1999999999999" stroke="#8a8a8a" stroke-width="1.1"/><text x="960.0" y="793.8" font-size="15.2" text-anchor="middle" fill="#000" transform="translate(960.4,0) scale(1.05,1) translate(-960.4,0)">-,35</text><path d="M615.1,574.4 L622.7,577.3 L630.2,580.2 L637.8,583.1 L645.4,586.0 L653.0,588.9 L660.5,591.8 L668.1,594.6 L675.7,597.4 L683.3,600.1 L690.8,602.9 L698.4,605.5 L706.0,608.1 L713.6,610.6 L721.1,613.0 L728.7,615.3 L736.3,617.4 L743.9,619.4 L751.4,621.3 L759.0,623.0 L766.6,624.5 L774.2,626.0 L781.7,627.3 L789.3,628.6 L796.9,629.8 L804.5,630.9 L812.0,632.0 L819.6,633.1 L827.2,634.1 L834.8,635.1 L842.3,636.1 L849.9,637.0 L857.5,638.0 L865.1,638.9 L872.6,639.9 L880.2,640.8 L887.8,641.7 L895.4,642.6 L902.9,643.5 L910.5,644.4" fill="none" stroke="#5e5e5e" stroke-width="1.2" stroke-dasharray="3.4 3.7"/><path d="M615.1,614.4 L622.7,615.3 L630.2,616.2 L637.8,617.2 L645.4,618.2 L653.0,619.1 L660.5,620.1 L668.1,621.2 L675.7,622.2 L683.3,623.3 L690.8,624.5 L698.4,625.7 L706.0,626.9 L713.6,628.3 L721.1,629.7 L728.7,631.3 L736.3,633.0 L743.9,634.9 L751.4,636.9 L759.0,639.0 L766.6,641.3 L774.2,643.7 L781.7,646.3 L789.3,648.8 L796.9,651.5 L804.5,654.2 L812.0,657.0 L819.6,659.8 L827.2,662.6 L834.8,665.5 L842.3,668.3 L849.9,671.2 L857.5,674.1 L865.1,677.1 L872.6,680.0 L880.2,682.9 L887.8,685.9 L895.4,688.8 L902.9,691.8 L910.5,694.7" fill="none" stroke="#5e5e5e" stroke-width="1.2" stroke-dasharray="3.4 3.7"/><circle cx="678.2" cy="467.9" r="3.15"/><circle cx="702.5" cy="464.7" r="3.15"/><circle cx="760" cy="475.1" r="3.15"/><circle cx="662" cy="504.8" r="3.15"/><circle cx="698.3" cy="535.9" r="3.15"/><circle cx="620.9" cy="547.7" r="3.15"/><circle cx="624" cy="552.5" r="3.15"/><circle cx="615.9" cy="560.2" r="3.15"/><circle cx="695" cy="566.1" r="3.15"/><circle cx="727.3" cy="561.4" r="3.15"/><circle cx="754.6" cy="557.2" r="3.15"/><circle cx="745.8" cy="567.8" r="3.15"/><circle cx="755.5" cy="565.6" r="3.15"/><circle cx="757.5" cy="569.5" r="3.15"/><circle cx="688" cy="578.5" r="3.15"/><circle cx="721.8" cy="582.4" r="3.15"/><circle cx="686.6" cy="586" r="3.15"/><circle cx="663.7" cy="588.4" r="3.15"/><circle cx="767.9" cy="570.6" r="3.15"/><circle cx="787.7" cy="584" r="3.15"/><circle cx="811.6" cy="588.2" r="3.15"/><circle cx="643.2" cy="593" r="3.15"/><circle cx="679.4" cy="592.9" r="3.15"/><circle cx="727.8" cy="600.1" r="3.15"/><circle cx="741.2" cy="599.2" r="3.15"/><circle cx="658.3" cy="605.9" r="3.15"/><circle cx="695.5" cy="602.9" r="3.15"/><circle cx="696.8" cy="608.1" r="3.15"/><circle cx="700" cy="606.8" r="3.15"/><circle cx="718.4" cy="607.1" r="3.15"/><circle cx="627.3" cy="613.8" r="3.15"/><circle cx="709.7" cy="611.8" r="3.15"/><circle cx="719.3" cy="615.2" r="3.15"/><circle cx="705.5" cy="617.2" r="3.15"/><circle cx="688" cy="618.5" r="3.15"/><circle cx="696.5" cy="619.7" r="3.15"/><circle cx="703" cy="621" r="3.15"/><circle cx="708.1" cy="622.7" r="3.15"/><circle cx="714.3" cy="620.2" r="3.15"/><circle cx="736.5" cy="617.7" r="3.15"/><circle cx="731.5" cy="621.4" r="3.15"/><circle cx="750" cy="619" r="3.15"/><circle cx="760" cy="617.7" r="3.15"/><circle cx="673.7" cy="623.9" r="3.15"/><circle cx="684.6" cy="627.7" r="3.15"/><circle cx="684.9" cy="630.7" r="3.15"/><circle cx="723.1" cy="626.9" r="3.15"/><circle cx="738.2" cy="629.1" r="3.15"/><circle cx="750.8" cy="628.9" r="3.15"/><circle cx="756.6" cy="632.4" r="3.15"/><circle cx="735.7" cy="633.6" r="3.15"/><circle cx="759.2" cy="636.9" r="3.15"/><circle cx="748.8" cy="638.6" r="3.15"/><circle cx="727.8" cy="640" r="3.15"/><circle cx="651.9" cy="638.9" r="3.15"/><circle cx="660.6" cy="635.6" r="3.15"/><circle cx="664" cy="639.4" r="3.15"/><circle cx="758" cy="645.3" r="3.15"/><circle cx="708.1" cy="649.5" r="3.15"/><circle cx="717.3" cy="647" r="3.15"/><circle cx="652.3" cy="653.4" r="3.15"/><circle cx="682.6" cy="653.7" r="3.15"/><circle cx="694.3" cy="655.9" r="3.15"/><circle cx="674.9" cy="658.9" r="3.15"/><circle cx="701.9" cy="661.2" r="3.15"/><circle cx="736" cy="652.9" r="3.15"/><circle cx="749.9" cy="658.7" r="3.15"/><circle cx="747.9" cy="664.9" r="3.15"/><circle cx="756.1" cy="662.6" r="3.15"/><circle cx="720.1" cy="668.8" r="3.15"/><circle cx="713.9" cy="675" r="3.15"/><circle cx="699.2" cy="676.8" r="3.15"/><circle cx="747.4" cy="676" r="3.15"/><circle cx="751.6" cy="677.6" r="3.15"/><circle cx="675.9" cy="681.7" r="3.15"/><circle cx="705.5" cy="684.3" r="3.15"/><circle cx="759.2" cy="687.5" r="3.15"/><circle cx="758.3" cy="693.1" r="3.15"/><circle cx="731.2" cy="696.4" r="3.15"/><circle cx="710.6" cy="705.6" r="3.15"/><circle cx="759.2" cy="711.5" r="3.15"/><circle cx="772.1" cy="594.5" r="3.15"/><circle cx="775.4" cy="601.3" r="3.15"/><circle cx="788.8" cy="599.6" r="3.15"/><circle cx="793.9" cy="597.2" r="3.15"/><circle cx="791" cy="610.1" r="3.15"/><circle cx="824.4" cy="605.1" r="3.15"/><circle cx="874.5" cy="616" r="3.15"/><circle cx="769.7" cy="613" r="3.15"/><circle cx="764.2" cy="622.7" r="3.15"/><circle cx="763.7" cy="628.1" r="3.15"/><circle cx="770.4" cy="627.7" r="3.15"/><circle cx="782.3" cy="624.7" r="3.15"/><circle cx="800.7" cy="624" r="3.15"/><circle cx="786.5" cy="630.7" r="3.15"/><circle cx="795.7" cy="629.4" r="3.15"/><circle cx="791" cy="633.9" r="3.15"/><circle cx="788" cy="637.3" r="3.15"/><circle cx="779.8" cy="638.3" r="3.15"/><circle cx="823.7" cy="629.9" r="3.15"/><circle cx="826.7" cy="635.8" r="3.15"/><circle cx="850.5" cy="636.9" r="3.15"/><circle cx="910.5" cy="638.3" r="3.15"/><circle cx="770.9" cy="644" r="3.15"/><circle cx="768.4" cy="646.5" r="3.15"/><circle cx="778" cy="648.7" r="3.15"/><circle cx="793.2" cy="646.5" r="3.15"/><circle cx="791.9" cy="653.2" r="3.15"/><circle cx="860.2" cy="652.5" r="3.15"/><circle cx="867.7" cy="657.5" r="3.15"/><circle cx="777.3" cy="662.1" r="3.15"/><circle cx="784.3" cy="662.9" r="3.15"/><circle cx="818.7" cy="662.6" r="3.15"/><circle cx="814.5" cy="667.6" r="3.15"/><circle cx="795.7" cy="673.3" r="3.15"/><circle cx="809.4" cy="675.5" r="3.15"/><circle cx="768.9" cy="679.3" r="3.15"/><circle cx="793.9" cy="682.2" r="3.15"/><circle cx="762" cy="698.4" r="3.15"/><circle cx="778" cy="700.3" r="3.15"/><circle cx="807.3" cy="713.7" r="3.15"/><circle cx="780" cy="729" r="3.15"/><line x1="561.3" y1="580.7" x2="981.4" y2="687.6" stroke="#262626" stroke-width="1.25"/><circle cx="772.3" cy="447.3" r="14.7" fill="#fff" stroke="#000" stroke-width="1.9"/><text x="772.3" y="457.15" font-size="25.5" text-anchor="middle" fill="#000">2</text><text transform="translate(513.80,752.39) rotate(-90)" x="0" y="0" font-size="16.55" font-weight="bold" textLength="294.95" lengthAdjust="spacingAndGlyphs" fill="#000">Right Lateral Orbitofrontal Cortex SA</text><text x="692.15" y="825.8" font-size="21.86" font-weight="bold" fill="#000"><tspan textLength="140.04" lengthAdjust="spacingAndGlyphs">FB-HARs PRS</tspan><tspan font-size="14.6" dx="-0.2" dy="4.7">SZ</tspan></text></g>
<g><path d="M1065.8,436.7 L1065.8,774.3 L1486.5,774.3" fill="none" stroke="#8a8a8a" stroke-width="1.25"/><line x1="1060.0" y1="453.1" x2="1065.8" y2="453.1" stroke="#8a8a8a" stroke-width="1.1"/><text x="1059.8" y="459.2" font-size="15.6" text-anchor="end" fill="#000">800</text><line x1="1060.0" y1="491.1" x2="1065.8" y2="491.1" stroke="#8a8a8a" stroke-width="1.1"/><text x="1059.8" y="497.2" font-size="15.6" text-anchor="end" fill="#000">600</text><line x1="1060.0" y1="529.1" x2="1065.8" y2="529.1" stroke="#8a8a8a" stroke-width="1.1"/><text x="1059.8" y="535.2" font-size="15.6" text-anchor="end" fill="#000">400</text><line x1="1060.0" y1="567.1" x2="1065.8" y2="567.1" stroke="#8a8a8a" stroke-width="1.1"/><text x="1059.8" y="573.2" font-size="15.6" text-anchor="end" fill="#000">200</text><line x1="1060.0" y1="605.1" x2="1065.8" y2="605.1" stroke="#8a8a8a" stroke-width="1.1"/><text x="1059.8" y="611.2" font-size="15.6" text-anchor="end" fill="#000">0</text><line x1="1060.0" y1="643.1" x2="1065.8" y2="643.1" stroke="#8a8a8a" stroke-width="1.1"/><text x="1059.8" y="649.2" font-size="15.6" text-anchor="end" fill="#000">-200</text><line x1="1060.0" y1="681.1" x2="1065.8" y2="681.1" stroke="#8a8a8a" stroke-width="1.1"/><text x="1059.8" y="687.2" font-size="15.6" text-anchor="end" fill="#000">-400</text><line x1="1060.0" y1="719.1" x2="1065.8" y2="719.1" stroke="#8a8a8a" stroke-width="1.1"/><text x="1059.8" y="725.2" font-size="15.6" text-anchor="end" fill="#000">-600</text><line x1="1060.0" y1="757.1" x2="1065.8" y2="757.1" stroke="#8a8a8a" stroke-width="1.1"/><text x="1059.8" y="763.2" font-size="15.6" text-anchor="end" fill="#000">-800</text><line x1="1087.0" y1="774.3" x2="1087.0" y2="780.1999999999999" stroke="#8a8a8a" stroke-width="1.1"/><text x="1086.6" y="793.8" font-size="15.2" text-anchor="middle" fill="#000" transform="translate(1087.0,0) scale(1.05,1) translate(-1087.0,0)">-,65</text><line x1="1150.2" y1="774.3" x2="1150.2" y2="780.1999999999999" stroke="#8a8a8a" stroke-width="1.1"/><text x="1149.8" y="793.8" font-size="15.2" text-anchor="middle" fill="#000" transform="translate(1150.2,0) scale(1.05,1) translate(-1150.2,0)">-,60</text><line x1="1213.3" y1="774.3" x2="1213.3" y2="780.1999999999999" stroke="#8a8a8a" stroke-width="1.1"/><text x="1212.9" y="793.8" font-size="15.2" text-anchor="middle" fill="#000" transform="translate(1213.3,0) scale(1.05,1) translate(-1213.3,0)">-,55</text><line x1="1276.5" y1="774.3" x2="1276.5" y2="780.1999999999999" stroke="#8a8a8a" stroke-width="1.1"/><text x="1276.1" y="793.8" font-size="15.2" text-anchor="middle" fill="#000" transform="translate(1276.5,0) scale(1.05,1) translate(-1276.5,0)">-,50</text><line x1="1339.7" y1="774.3" x2="1339.7" y2="780.1999999999999" stroke="#8a8a8a" stroke-width="1.1"/><text x="1339.3" y="793.8" font-size="15.2" text-anchor="middle" fill="#000" transform="translate(1339.7,0) scale(1.05,1) translate(-1339.7,0)">-,45</text><line x1="1402.8" y1="774.3" x2="1402.8" y2="780.1999999999999" stroke="#8a8a8a" stroke-width="1.1"/><text x="1402.4" y="793.8" font-size="15.2" text-anchor="middle" fill="#000" transform="translate(1402.8,0) scale(1.05,1) translate(-1402.8,0)">-,40</text><line x1="1466.0" y1="774.3" x2="1466.0" y2="780.1999999999999" stroke="#8a8a8a" stroke-width="1.1"/><text x="1465.6" y="793.8" font-size="15.2" text-anchor="middle" fill="#000" transform="translate(1466.0,0) scale(1.05,1) translate(-1466.0,0)">-,35</text><path d="M1120.1,561.7 L1127.7,564.2 L1135.3,566.6 L1142.8,569.0 L1150.4,571.4 L1158.0,573.8 L1165.6,576.2 L1173.2,578.5 L1180.8,580.8 L1188.3,583.1 L1195.9,585.3 L1203.5,587.5 L1211.1,589.6 L1218.7,591.6 L1226.2,593.5 L1233.8,595.3 L1241.4,597.0 L1249.0,598.5 L1256.6,599.9 L1264.2,601.1 L1271.7,602.3 L1279.3,603.4 L1286.9,604.3 L1294.5,605.2 L1302.1,606.1 L1309.7,606.9 L1317.2,607.7 L1324.8,608.5 L1332.4,609.2 L1340.0,609.9 L1347.6,610.6 L1355.1,611.3 L1362.7,612.0 L1370.3,612.6 L1377.9,613.3 L1385.5,614.0 L1393.1,614.6 L1400.6,615.2 L1408.2,615.9 L1415.8,616.5" fill="none" stroke="#5e5e5e" stroke-width="1.2" stroke-dasharray="3.4 3.7"/><path d="M1120.1,595.9 L1127.7,596.6 L1135.3,597.3 L1142.8,598.0 L1150.4,598.7 L1158.0,599.4 L1165.6,600.1 L1173.2,600.9 L1180.8,601.7 L1188.3,602.5 L1195.9,603.4 L1203.5,604.3 L1211.1,605.4 L1218.7,606.4 L1226.2,607.6 L1233.8,609.0 L1241.4,610.4 L1249.0,612.0 L1256.6,613.7 L1264.2,615.5 L1271.7,617.5 L1279.3,619.5 L1286.9,621.7 L1294.5,623.9 L1302.1,626.1 L1309.7,628.4 L1317.2,630.7 L1324.8,633.1 L1332.4,635.5 L1340.0,637.8 L1347.6,640.3 L1355.1,642.7 L1362.7,645.1 L1370.3,647.5 L1377.9,650.0 L1385.5,652.4 L1393.1,654.9 L1400.6,657.4 L1408.2,659.8 L1415.8,662.3" fill="none" stroke="#5e5e5e" stroke-width="1.2" stroke-dasharray="3.4 3.7"/><circle cx="1157.3" cy="460.1" r="3.15"/><circle cx="1199.3" cy="499.4" r="3.15"/><circle cx="1125.6" cy="538.8" r="3.15"/><circle cx="1120.6" cy="549.2" r="3.15"/><circle cx="1132.1" cy="548.8" r="3.15"/><circle cx="1214.7" cy="533.3" r="3.15"/><circle cx="1241" cy="537.1" r="3.15"/><circle cx="1262.5" cy="533.3" r="3.15"/><circle cx="1265.9" cy="535.9" r="3.15"/><circle cx="1180.4" cy="545.2" r="3.15"/><circle cx="1183.2" cy="546.7" r="3.15"/><circle cx="1203.8" cy="548" r="3.15"/><circle cx="1205.2" cy="546.3" r="3.15"/><circle cx="1236.8" cy="555" r="3.15"/><circle cx="1255.3" cy="559.2" r="3.15"/><circle cx="1256.3" cy="568.1" r="3.15"/><circle cx="1179.6" cy="566.8" r="3.15"/><circle cx="1184.6" cy="567.3" r="3.15"/><circle cx="1201.7" cy="565.6" r="3.15"/><circle cx="1224.3" cy="564.8" r="3.15"/><circle cx="1189.6" cy="575.3" r="3.15"/><circle cx="1193" cy="579.5" r="3.15"/><circle cx="1208.4" cy="575.6" r="3.15"/><circle cx="1211" cy="577.8" r="3.15"/><circle cx="1210.9" cy="582.4" r="3.15"/><circle cx="1264.2" cy="575.6" r="3.15"/><circle cx="1128.8" cy="583.7" r="3.15"/><circle cx="1165.3" cy="582.9" r="3.15"/><circle cx="1163.1" cy="586" r="3.15"/><circle cx="1200.2" cy="588.7" r="3.15"/><circle cx="1236.2" cy="588.2" r="3.15"/><circle cx="1240.7" cy="585.4" r="3.15"/><circle cx="1246.2" cy="584.9" r="3.15"/><circle cx="1253.8" cy="586.7" r="3.15"/><circle cx="1252.9" cy="591.7" r="3.15"/><circle cx="1260.5" cy="586" r="3.15"/><circle cx="1319.5" cy="540" r="3.15"/><circle cx="1276.3" cy="566.9" r="3.15"/><circle cx="1300.5" cy="568.1" r="3.15"/><circle cx="1273.7" cy="578.2" r="3.15"/><circle cx="1285.1" cy="577.3" r="3.15"/><circle cx="1294" cy="581.8" r="3.15"/><circle cx="1300.5" cy="583.5" r="3.15"/><circle cx="1316.5" cy="577.8" r="3.15"/><circle cx="1328.7" cy="573.1" r="3.15"/><circle cx="1216.1" cy="596.4" r="3.15"/><circle cx="1213.4" cy="601.3" r="3.15"/><circle cx="1200.2" cy="600.1" r="3.15"/><circle cx="1168.7" cy="599.7" r="3.15"/><circle cx="1156.9" cy="605.4" r="3.15"/><circle cx="1178.7" cy="609.6" r="3.15"/><circle cx="1201" cy="607.3" r="3.15"/><circle cx="1207.2" cy="609" r="3.15"/><circle cx="1225.3" cy="611" r="3.15"/><circle cx="1218.9" cy="615.2" r="3.15"/><circle cx="1212.6" cy="618" r="3.15"/><circle cx="1241.2" cy="606.8" r="3.15"/><circle cx="1243.2" cy="612.3" r="3.15"/><circle cx="1254.9" cy="615.7" r="3.15"/><circle cx="1260" cy="606.8" r="3.15"/><circle cx="1262.5" cy="607.3" r="3.15"/><circle cx="1264.2" cy="599.2" r="3.15"/><circle cx="1193" cy="620.2" r="3.15"/><circle cx="1228.1" cy="623" r="3.15"/><circle cx="1204.2" cy="625.7" r="3.15"/><circle cx="1207.5" cy="625.5" r="3.15"/><circle cx="1265" cy="629.4" r="3.15"/><circle cx="1148.2" cy="635.8" r="3.15"/><circle cx="1168.7" cy="634.8" r="3.15"/><circle cx="1191.6" cy="631.9" r="3.15"/><circle cx="1189.1" cy="638.1" r="3.15"/><circle cx="1199.7" cy="635.8" r="3.15"/><circle cx="1219.4" cy="636.9" r="3.15"/><circle cx="1227" cy="634.4" r="3.15"/><circle cx="1233.2" cy="641.1" r="3.15"/><circle cx="1223.6" cy="644.5" r="3.15"/><circle cx="1166.7" cy="647.8" r="3.15"/><circle cx="1232.7" cy="651.5" r="3.15"/><circle cx="1262.5" cy="647.8" r="3.15"/><circle cx="1261.1" cy="652.9" r="3.15"/><circle cx="1252.4" cy="655.7" r="3.15"/><circle cx="1263.3" cy="659.6" r="3.15"/><circle cx="1187.4" cy="656.5" r="3.15"/><circle cx="1222.6" cy="662.1" r="3.15"/><circle cx="1232.3" cy="670.1" r="3.15"/><circle cx="1256.1" cy="676.3" r="3.15"/><circle cx="1265" cy="676.8" r="3.15"/><circle cx="1251.3" cy="723.2" r="3.15"/><circle cx="1268.7" cy="595.9" r="3.15"/><circle cx="1274.7" cy="597.9" r="3.15"/><circle cx="1286.8" cy="597.9" r="3.15"/><circle cx="1291" cy="597.1" r="3.15"/><circle cx="1296" cy="593" r="3.15"/><circle cx="1297.7" cy="597.1" r="3.15"/><circle cx="1305.6" cy="596.7" r="3.15"/><circle cx="1379.3" cy="602.6" r="3.15"/><circle cx="1269.5" cy="611" r="3.15"/><circle cx="1283.1" cy="610.5" r="3.15"/><circle cx="1292.7" cy="608.5" r="3.15"/><circle cx="1329" cy="615.2" r="3.15"/><circle cx="1415.5" cy="615.5" r="3.15"/><circle cx="1285.1" cy="620.2" r="3.15"/><circle cx="1298.5" cy="620.2" r="3.15"/><circle cx="1282.6" cy="624.4" r="3.15"/><circle cx="1289.3" cy="623.2" r="3.15"/><circle cx="1355.5" cy="622.7" r="3.15"/><circle cx="1273.1" cy="629.4" r="3.15"/><circle cx="1275.6" cy="629.9" r="3.15"/><circle cx="1280.4" cy="627.7" r="3.15"/><circle cx="1298.9" cy="629.1" r="3.15"/><circle cx="1331.7" cy="631.4" r="3.15"/><circle cx="1372.6" cy="635.3" r="3.15"/><circle cx="1282.3" cy="636.4" r="3.15"/><circle cx="1296" cy="636.1" r="3.15"/><circle cx="1266.4" cy="644.5" r="3.15"/><circle cx="1311.9" cy="646.1" r="3.15"/><circle cx="1314.4" cy="649.5" r="3.15"/><circle cx="1323.2" cy="653.7" r="3.15"/><circle cx="1277.3" cy="659" r="3.15"/><circle cx="1289" cy="660.7" r="3.15"/><circle cx="1365" cy="660.4" r="3.15"/><circle cx="1274.2" cy="679.2" r="3.15"/><circle cx="1293" cy="682.2" r="3.15"/><line x1="1065.8" y1="567.7" x2="1486.5" y2="653.9" stroke="#262626" stroke-width="1.25"/><circle cx="1272.5" cy="447.5" r="14.7" fill="#fff" stroke="#000" stroke-width="1.9"/><text x="1272.5" y="457.35" font-size="25.5" text-anchor="middle" fill="#000">3</text><text transform="translate(1018.70,710.69) rotate(-90)" x="0" y="0" font-size="16.55" font-weight="bold" textLength="211.18" lengthAdjust="spacingAndGlyphs" fill="#000">Right Pars Triangularis SA</text><text x="1191.65" y="825.8" font-size="21.86" font-weight="bold" fill="#000"><tspan textLength="140.04" lengthAdjust="spacingAndGlyphs">FB-HARs PRS</tspan><tspan font-size="14.6" dx="-0.2" dy="4.7">SZ</tspan></text></g>
<g><path d="M1558.2,436.7 L1558.2,774.3 L1979,774.3" fill="none" stroke="#8a8a8a" stroke-width="1.25"/><line x1="1552.4" y1="453.1" x2="1558.2" y2="453.1" stroke="#8a8a8a" stroke-width="1.1"/><text x="1552.2" y="459.2" font-size="15.6" text-anchor="end" fill="#000">400</text><line x1="1552.4" y1="491.1" x2="1558.2" y2="491.1" stroke="#8a8a8a" stroke-width="1.1"/><text x="1552.2" y="497.2" font-size="15.6" text-anchor="end" fill="#000">300</text><line x1="1552.4" y1="529.1" x2="1558.2" y2="529.1" stroke="#8a8a8a" stroke-width="1.1"/><text x="1552.2" y="535.2" font-size="15.6" text-anchor="end" fill="#000">200</text><line x1="1552.4" y1="567.1" x2="1558.2" y2="567.1" stroke="#8a8a8a" stroke-width="1.1"/><text x="1552.2" y="573.2" font-size="15.6" text-anchor="end" fill="#000">100</text><line x1="1552.4" y1="605.1" x2="1558.2" y2="605.1" stroke="#8a8a8a" stroke-width="1.1"/><text x="1552.2" y="611.2" font-size="15.6" text-anchor="end" fill="#000">0</text><line x1="1552.4" y1="643.1" x2="1558.2" y2="643.1" stroke="#8a8a8a" stroke-width="1.1"/><text x="1552.2" y="649.2" font-size="15.6" text-anchor="end" fill="#000">-100</text><line x1="1552.4" y1="681.1" x2="1558.2" y2="681.1" stroke="#8a8a8a" stroke-width="1.1"/><text x="1552.2" y="687.2" font-size="15.6" text-anchor="end" fill="#000">-200</text><line x1="1552.4" y1="719.1" x2="1558.2" y2="719.1" stroke="#8a8a8a" stroke-width="1.1"/><text x="1552.2" y="725.2" font-size="15.6" text-anchor="end" fill="#000">-300</text><line x1="1552.4" y1="757.1" x2="1558.2" y2="757.1" stroke="#8a8a8a" stroke-width="1.1"/><text x="1552.2" y="763.2" font-size="15.6" text-anchor="end" fill="#000">-400</text><line x1="1579.6" y1="774.3" x2="1579.6" y2="780.1999999999999" stroke="#8a8a8a" stroke-width="1.1"/><text x="1579.2" y="793.8" font-size="15.2" text-anchor="middle" fill="#000" transform="translate(1579.6,0) scale(1.05,1) translate(-1579.6,0)">-,65</text><line x1="1642.6" y1="774.3" x2="1642.6" y2="780.1999999999999" stroke="#8a8a8a" stroke-width="1.1"/><text x="1642.2" y="793.8" font-size="15.2" text-anchor="middle" fill="#000" transform="translate(1642.6,0) scale(1.05,1) translate(-1642.6,0)">-,60</text><line x1="1705.7" y1="774.3" x2="1705.7" y2="780.1999999999999" stroke="#8a8a8a" stroke-width="1.1"/><text x="1705.3" y="793.8" font-size="15.2" text-anchor="middle" fill="#000" transform="translate(1705.7,0) scale(1.05,1) translate(-1705.7,0)">-,55</text><line x1="1768.7" y1="774.3" x2="1768.7" y2="780.1999999999999" stroke="#8a8a8a" stroke-width="1.1"/><text x="1768.3" y="793.8" font-size="15.2" text-anchor="middle" fill="#000" transform="translate(1768.7,0) scale(1.05,1) translate(-1768.7,0)">-,50</text><line x1="1831.7" y1="774.3" x2="1831.7" y2="780.1999999999999" stroke="#8a8a8a" stroke-width="1.1"/><text x="1831.3" y="793.8" font-size="15.2" text-anchor="middle" fill="#000" transform="translate(1831.7,0) scale(1.05,1) translate(-1831.7,0)">-,45</text><line x1="1894.8" y1="774.3" x2="1894.8" y2="780.1999999999999" stroke="#8a8a8a" stroke-width="1.1"/><text x="1894.3" y="793.8" font-size="15.2" text-anchor="middle" fill="#000" transform="translate(1894.8,0) scale(1.05,1) translate(-1894.8,0)">-,40</text><line x1="1957.8" y1="774.3" x2="1957.8" y2="780.1999999999999" stroke="#8a8a8a" stroke-width="1.1"/><text x="1957.4" y="793.8" font-size="15.2" text-anchor="middle" fill="#000" transform="translate(1957.8,0) scale(1.05,1) translate(-1957.8,0)">-,35</text><path d="M1612.6,551.9 L1620.2,554.9 L1627.8,557.9 L1635.3,560.8 L1642.9,563.7 L1650.5,566.6 L1658.1,569.5 L1665.7,572.4 L1673.3,575.2 L1680.8,578.0 L1688.4,580.7 L1696.0,583.4 L1703.6,586.0 L1711.2,588.5 L1718.7,590.9 L1726.3,593.1 L1733.9,595.2 L1741.5,597.1 L1749.1,598.8 L1756.7,600.4 L1764.2,601.8 L1771.8,603.1 L1779.4,604.3 L1787.0,605.4 L1794.6,606.4 L1802.2,607.4 L1809.7,608.3 L1817.3,609.2 L1824.9,610.0 L1832.5,610.8 L1840.1,611.6 L1847.6,612.4 L1855.2,613.2 L1862.8,613.9 L1870.4,614.6 L1878.0,615.4 L1885.6,616.1 L1893.1,616.8 L1900.7,617.5 L1908.3,618.2" fill="none" stroke="#5e5e5e" stroke-width="1.2" stroke-dasharray="3.4 3.7"/><path d="M1612.6,596.5 L1620.2,597.3 L1627.8,598.0 L1635.3,598.8 L1642.9,599.5 L1650.5,600.3 L1658.1,601.2 L1665.7,602.0 L1673.3,602.9 L1680.8,603.8 L1688.4,604.8 L1696.0,605.9 L1703.6,607.0 L1711.2,608.2 L1718.7,609.5 L1726.3,611.0 L1733.9,612.7 L1741.5,614.4 L1749.1,616.4 L1756.7,618.6 L1764.2,620.8 L1771.8,623.2 L1779.4,625.8 L1787.0,628.4 L1794.6,631.1 L1802.2,633.8 L1809.7,636.6 L1817.3,639.5 L1824.9,642.3 L1832.5,645.2 L1840.1,648.1 L1847.6,651.1 L1855.2,654.0 L1862.8,657.0 L1870.4,660.0 L1878.0,663.0 L1885.6,666.0 L1893.1,669.0 L1900.7,672.0 L1908.3,675.0" fill="none" stroke="#5e5e5e" stroke-width="1.2" stroke-dasharray="3.4 3.7"/><circle cx="1661.3" cy="470.6" r="3.15"/><circle cx="1728.7" cy="474" r="3.15"/><circle cx="1618.4" cy="489.4" r="3.15"/><circle cx="1675.6" cy="491.5" r="3.15"/><circle cx="1692.5" cy="500.3" r="3.15"/><circle cx="1693.8" cy="516.5" r="3.15"/><circle cx="1696" cy="515.3" r="3.15"/><circle cx="1699.8" cy="522.4" r="3.15"/><circle cx="1620.9" cy="526.2" r="3.15"/><circle cx="1679.9" cy="529.2" r="3.15"/><circle cx="1659.1" cy="538.5" r="3.15"/><circle cx="1757.5" cy="535.8" r="3.15"/><circle cx="1711.4" cy="543" r="3.15"/><circle cx="1724.5" cy="545" r="3.15"/><circle cx="1744.6" cy="544.3" r="3.15"/><circle cx="1719" cy="550" r="3.15"/><circle cx="1699.3" cy="554.2" r="3.15"/><circle cx="1714.4" cy="555.5" r="3.15"/><circle cx="1757.5" cy="555.9" r="3.15"/><circle cx="1747.4" cy="560.2" r="3.15"/><circle cx="1755" cy="560.1" r="3.15"/><circle cx="1671.2" cy="563.9" r="3.15"/><circle cx="1735.7" cy="567.6" r="3.15"/><circle cx="1748.3" cy="569.4" r="3.15"/><circle cx="1725.3" cy="573.5" r="3.15"/><circle cx="1725.3" cy="575.6" r="3.15"/><circle cx="1685.4" cy="576" r="3.15"/><circle cx="1700.5" cy="575.6" r="3.15"/><circle cx="1691.8" cy="581" r="3.15"/><circle cx="1756.1" cy="582" r="3.15"/><circle cx="1649.8" cy="589" r="3.15"/><circle cx="1693" cy="590.5" r="3.15"/><circle cx="1715.9" cy="588.4" r="3.15"/><circle cx="1733.5" cy="588.7" r="3.15"/><circle cx="1765" cy="498.6" r="3.15"/><circle cx="1765.9" cy="541.8" r="3.15"/><circle cx="1790.7" cy="545.2" r="3.15"/><circle cx="1788.2" cy="550" r="3.15"/><circle cx="1775.4" cy="551" r="3.15"/><circle cx="1789" cy="557.2" r="3.15"/><circle cx="1798.1" cy="558.6" r="3.15"/><circle cx="1815.6" cy="556.4" r="3.15"/><circle cx="1781.5" cy="565.3" r="3.15"/><circle cx="1767.2" cy="570.3" r="3.15"/><circle cx="1786.3" cy="584" r="3.15"/><circle cx="1768.4" cy="590" r="3.15"/><circle cx="1672.4" cy="594.5" r="3.15"/><circle cx="1681.8" cy="597.2" r="3.15"/><circle cx="1676.7" cy="602.6" r="3.15"/><circle cx="1716.8" cy="595.1" r="3.15"/><circle cx="1743.2" cy="595.4" r="3.15"/><circle cx="1746.3" cy="595.9" r="3.15"/><circle cx="1733.5" cy="607.6" r="3.15"/><circle cx="1758" cy="606.8" r="3.15"/><circle cx="1655.3" cy="611.3" r="3.15"/><circle cx="1657.8" cy="616.5" r="3.15"/><circle cx="1649.4" cy="622.7" r="3.15"/><circle cx="1613.1" cy="626" r="3.15"/><circle cx="1703" cy="617.7" r="3.15"/><circle cx="1707.2" cy="615.7" r="3.15"/><circle cx="1704.7" cy="620.5" r="3.15"/><circle cx="1748.8" cy="616" r="3.15"/><circle cx="1759.2" cy="615.7" r="3.15"/><circle cx="1752.1" cy="623.9" r="3.15"/><circle cx="1708.1" cy="626.9" r="3.15"/><circle cx="1705.2" cy="629.9" r="3.15"/><circle cx="1758.3" cy="630.2" r="3.15"/><circle cx="1745.8" cy="629.7" r="3.15"/><circle cx="1747.4" cy="633.1" r="3.15"/><circle cx="1738.5" cy="631.9" r="3.15"/><circle cx="1691.8" cy="633.1" r="3.15"/><circle cx="1685.4" cy="633.9" r="3.15"/><circle cx="1683.8" cy="638.1" r="3.15"/><circle cx="1682.1" cy="642.8" r="3.15"/><circle cx="1720.6" cy="637.4" r="3.15"/><circle cx="1753" cy="640" r="3.15"/><circle cx="1711.4" cy="644.1" r="3.15"/><circle cx="1728.5" cy="644.8" r="3.15"/><circle cx="1697.2" cy="649.2" r="3.15"/><circle cx="1624.6" cy="653.7" r="3.15"/><circle cx="1640.7" cy="655.4" r="3.15"/><circle cx="1661.5" cy="652" r="3.15"/><circle cx="1732.9" cy="657.5" r="3.15"/><circle cx="1755.3" cy="656.2" r="3.15"/><circle cx="1759.2" cy="657.9" r="3.15"/><circle cx="1696.3" cy="661.2" r="3.15"/><circle cx="1717.8" cy="662.9" r="3.15"/><circle cx="1753.6" cy="664.2" r="3.15"/><circle cx="1758.3" cy="665.4" r="3.15"/><circle cx="1694.2" cy="673.8" r="3.15"/><circle cx="1757.5" cy="675.1" r="3.15"/><circle cx="1673.2" cy="685.2" r="3.15"/><circle cx="1753.8" cy="696.4" r="3.15"/><circle cx="1703.4" cy="708.5" r="3.15"/><circle cx="1773.1" cy="593.7" r="3.15"/><circle cx="1775.4" cy="596.4" r="3.15"/><circle cx="1777.6" cy="600.4" r="3.15"/><circle cx="1821.5" cy="602.6" r="3.15"/><circle cx="1769.6" cy="608.5" r="3.15"/><circle cx="1783.8" cy="611" r="3.15"/><circle cx="1779.8" cy="619.3" r="3.15"/><circle cx="1790.2" cy="618.5" r="3.15"/><circle cx="1793.2" cy="618.2" r="3.15"/><circle cx="1812" cy="618.2" r="3.15"/><circle cx="1857.5" cy="629.1" r="3.15"/><circle cx="1907.8" cy="637.3" r="3.15"/><circle cx="1793.2" cy="632.2" r="3.15"/><circle cx="1806.6" cy="635.3" r="3.15"/><circle cx="1821.2" cy="631.9" r="3.15"/><circle cx="1774.8" cy="645" r="3.15"/><circle cx="1777.6" cy="646.1" r="3.15"/><circle cx="1791" cy="646.1" r="3.15"/><circle cx="1823.7" cy="646.7" r="3.15"/><circle cx="1761.7" cy="652" r="3.15"/><circle cx="1784.8" cy="656.5" r="3.15"/><circle cx="1804.1" cy="654.2" r="3.15"/><circle cx="1766.2" cy="666.6" r="3.15"/><circle cx="1785.2" cy="663.7" r="3.15"/><circle cx="1788.5" cy="671.8" r="3.15"/><circle cx="1808.6" cy="673.8" r="3.15"/><circle cx="1864.7" cy="667.6" r="3.15"/><circle cx="1781.3" cy="694.7" r="3.15"/><circle cx="1847.6" cy="701.4" r="3.15"/><circle cx="1871.9" cy="698.9" r="3.15"/><line x1="1558.2" y1="560.9" x2="1979" y2="663.9" stroke="#262626" stroke-width="1.25"/><circle cx="1769.2" cy="447.5" r="14.7" fill="#fff" stroke="#000" stroke-width="1.9"/><text x="1769.2" y="457.35" font-size="25.5" text-anchor="middle" fill="#000">4</text><text transform="translate(1510.80,710.69) rotate(-90)" x="0" y="0" font-size="16.55" font-weight="bold" textLength="212.18" lengthAdjust="spacingAndGlyphs" fill="#000">Right Paracentral Lobe SA</text><text x="1689.15" y="825.8" font-size="21.86" font-weight="bold" fill="#000"><tspan textLength="140.04" lengthAdjust="spacingAndGlyphs">FB-HARs PRS</tspan><tspan font-size="14.6" dx="-0.2" dy="4.7">SZ</tspan></text></g>
<rect x="1492.8" y="430.8" width="2.2" height="402" fill="#fdebdf"/>
</svg>
</body></html>
